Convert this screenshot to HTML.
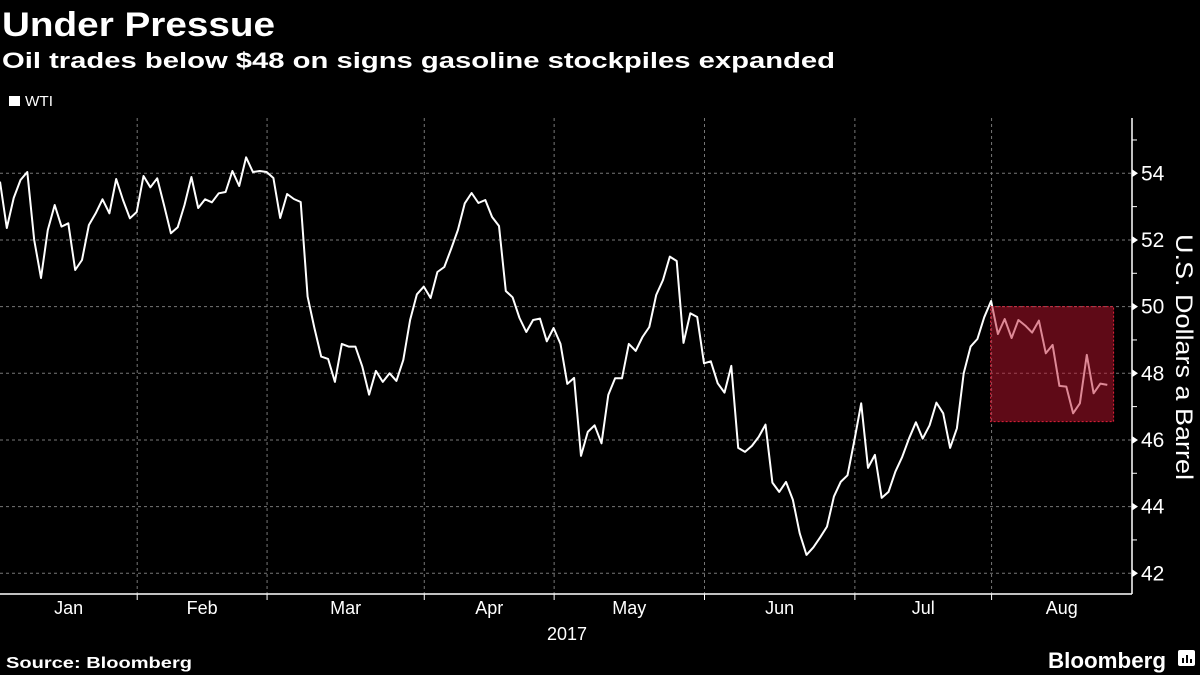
<!DOCTYPE html>
<html><head><meta charset="utf-8"><style>
html,body{margin:0;padding:0;background:#000;width:1200px;height:675px;overflow:hidden}
svg{display:block}
text{font-family:"Liberation Sans","DejaVu Sans",sans-serif;fill:#fff}
</style></head><body>
<svg id="chart" width="1200" height="675" viewBox="0 0 1200 675">
<text x="2" y="36" font-size="34" font-weight="bold" textLength="273" lengthAdjust="spacingAndGlyphs">Under Pressue</text>
<text x="2" y="68" font-size="22" font-weight="bold" font-family="DejaVu Sans" textLength="833" lengthAdjust="spacingAndGlyphs">Oil trades below $48 on signs gasoline stockpiles expanded</text>
<rect x="9" y="96" width="11" height="10" fill="#fff"/>
<text x="25" y="106" font-size="15" textLength="28" lengthAdjust="spacingAndGlyphs">WTI</text>
<g id="grid"></g>
<g id="highlight"></g>
<g id="series"></g>
<g id="overlay"></g>
<g id="axes"></g>
<text transform="translate(1176,357) rotate(90)" text-anchor="middle" font-size="24" textLength="246" lengthAdjust="spacingAndGlyphs">U.S. Dollars a Barrel</text>
<text x="567" y="640" font-size="18" text-anchor="middle">2017</text>
<text x="6" y="668" font-size="16" font-weight="bold" font-family="DejaVu Sans" textLength="186" lengthAdjust="spacingAndGlyphs">Source: Bloomberg</text>
<text x="1048" y="668" font-size="22" font-weight="bold" textLength="118" lengthAdjust="spacingAndGlyphs">Bloomberg</text>
<g>
<rect x="1178" y="650" width="17" height="16" rx="2" fill="#fff"/>
<rect x="1182" y="658" width="2" height="5" fill="#000"/><rect x="1186" y="655" width="2" height="8" fill="#000"/><rect x="1190" y="659" width="2" height="4" fill="#000"/>
</g>
</svg>
<script>
const wtiValues = [53.75,52.36,53.26,53.8,54.04,52.0,50.86,52.3,53.05,52.4,52.5,51.1,51.4,52.45,52.8,53.22,52.8,53.83,53.2,52.65,52.84,53.92,53.58,53.85,53.05,52.2,52.38,53.05,53.89,52.96,53.22,53.13,53.4,53.44,54.07,53.62,54.48,54.04,54.07,54.04,53.86,52.66,53.38,53.23,53.14,50.3,49.36,48.5,48.43,47.74,48.88,48.8,48.8,48.2,47.36,48.07,47.74,48.0,47.77,48.4,49.6,50.37,
50.6,50.26,51.04,51.19,51.73,52.3,53.1,53.41,53.11,53.2,52.69,52.42,50.47,50.28,49.66,49.24,49.6,49.64,48.96,49.36,48.88,47.68,47.86,45.52,46.24,46.44,45.9,47.35,47.85,47.85,48.88,48.67,49.09,49.39,50.35,50.8,51.5,51.37,48.91,49.8,49.69,48.3,48.36,47.7,47.42,48.22,45.76,45.64,45.82,46.09,46.46,44.72,44.44,44.74,44.2,43.2,
42.55,42.78,43.08,43.4,44.3,44.74,44.94,45.99,47.1,45.16,45.55,44.26,44.44,45.05,45.49,46.05,46.53,46.04,46.44,47.12,46.8,45.76,46.35,48.0,48.8,49.03,49.68,50.17,49.18,49.63,49.06,49.6,49.43,49.22,49.58,48.6,48.85,47.62,47.6,46.8,47.1,48.55,47.4,47.69,47.65];
const monthLabels = ["Jan","Feb","Mar","Apr","May","Jun","Jul","Aug"];
const monthStartIndex = [0,20,39,62,81,103,125,145];
const yTicks = [42,44,46,48,50,52,54];
const highlightStartIndex = 145;
const highlightEndIndex = 163;
const highlightHigh = 50;
const highlightLow = 46.55;

const NS="http://www.w3.org/2000/svg";
const plotLeft=0, plotRight=1132, plotTop=118, plotBottom=594;
const step=6.835;
const x=i=>i*step;
const y=v=>173.3+(54-v)*33.33;
function mk(tag,attrs,parent){const e=document.createElementNS(NS,tag);for(const k in attrs)e.setAttribute(k,attrs[k]);parent.appendChild(e);return e;}
const grid=document.getElementById('grid'),axes=document.getElementById('axes');
yTicks.forEach(t=>{
  const l=mk('line',{x1:plotLeft,x2:plotRight,y1:y(t),y2:y(t),stroke:'#777','stroke-width':1,'stroke-dasharray':'3,3'},grid);
  
  
  const p=mk('path',{d:`M${plotRight},${y(t)-4} L${plotRight+6},${y(t)} L${plotRight},${y(t)+4}Z`,fill:'#fff'},axes);
  
  
  const tx=mk('text',{x:1141,y:y(t)+7,'font-size':21},axes);
  tx.textContent=t;
  
  
});
for(let v=43;v<=55;v+=2){
  const m=mk('line',{x1:plotRight,x2:plotRight+5,y1:y(v),y2:y(v),stroke:'#fff','stroke-width':1},axes);
  
  
}
monthStartIndex.forEach((s,k)=>{
  const gx=x(s)+0.5;
  if(k>0){
    const g=mk('line',{x1:gx,x2:gx,y1:plotTop,y2:plotBottom,stroke:'#777','stroke-width':1,'stroke-dasharray':'3,3'},grid);
    
    
    const tk=mk('line',{x1:gx,x2:gx,y1:plotBottom,y2:plotBottom+6,stroke:'#fff','stroke-width':1},axes);
    
    
  }
  const end=k<monthStartIndex.length-1?x(monthStartIndex[k+1])+0.5:plotRight;
  const sx=k>0?gx:0;
  const t=mk('text',{x:(sx+end)/2,y:614,'font-size':18,'text-anchor':'middle'},axes);
  t.textContent=monthLabels[k];
  
  
});
const ax1=mk('line',{x1:plotRight,x2:plotRight,y1:plotTop,y2:plotBottom,stroke:'#fff','stroke-width':1.5},axes);


const ax2=mk('line',{x1:0,x2:plotRight,y1:plotBottom,y2:plotBottom,stroke:'#fff','stroke-width':1.5},axes);


const pts=wtiValues.map((v,i)=>x(i).toFixed(1)+','+y(v).toFixed(1)).join(' ');
const line=mk('polyline',{points:pts,fill:'none',stroke:'#fff','stroke-width':2,'stroke-linejoin':'round'},document.getElementById('series'));


const hx1=x(highlightStartIndex)-0.5, hx2=x(highlightEndIndex)-0.5;
const box=mk('rect',{x:hx1,y:y(highlightHigh),width:hx2-hx1,height:y(highlightLow)-y(highlightHigh),fill:'rgba(190,20,45,0.5)',stroke:'#e0203a','stroke-width':1,'stroke-dasharray':'2,2'},document.getElementById('overlay'));


</script>
</body></html>
